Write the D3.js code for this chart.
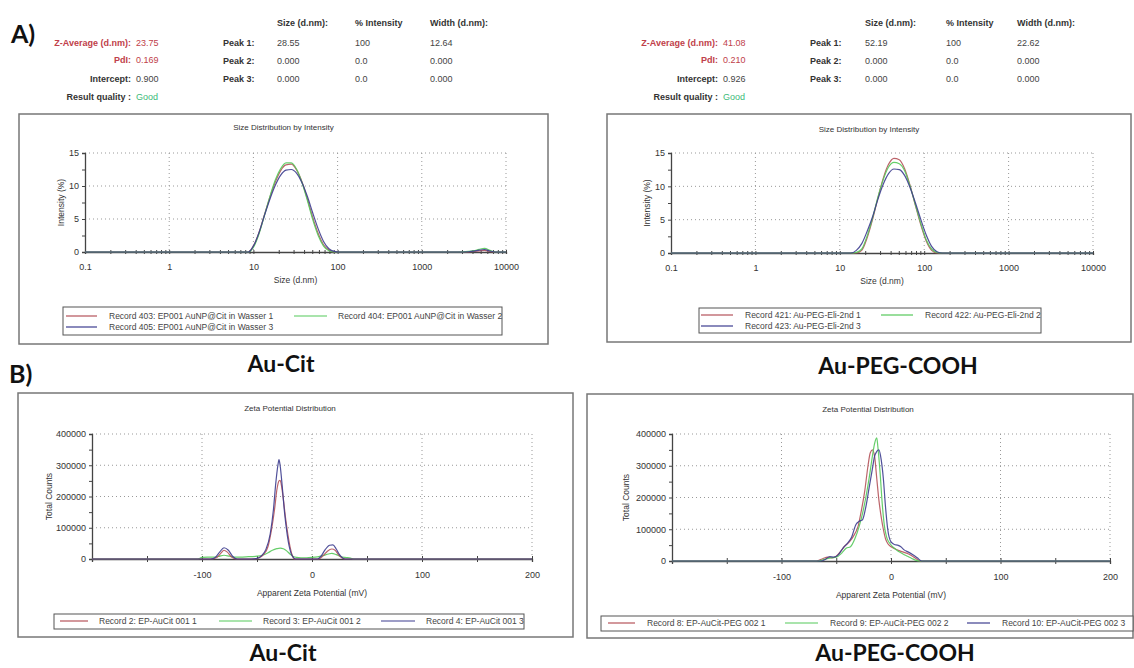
<!DOCTYPE html>
<html><head><meta charset="utf-8">
<script src="https://cdn.jsdelivr.net/npm/d3@7"></script>
<style>
body{margin:0;background:#fff;}
svg{display:block;font-family:"Liberation Sans",Arial,sans-serif;}
</style></head><body>
<svg id="c" width="1134" height="668"></svg>
<script>
// ---------- DATA ----------
// DLS size distribution, Au-Cit
const citSizes = [0.1, 8.7, 10.1, 11.7, 13.5, 15.7, 18.2, 21.0, 24.4, 28.2, 32.7, 37.8, 43.8, 50.7, 58.8, 68.1, 78.8, 91.3, 105.7, 2670, 3580, 4150, 4800, 5560, 6440, 7460, 10000];
const cit403 = [0, 0, 1.0, 3.0, 5.6, 8.3, 10.6, 12.3, 13.2, 13.3, 12.4, 10.6, 8.0, 5.2, 2.8, 1.1, 0.3, 0, 0, 0, 0.02, 0.08, 0.18, 0.25, 0.1, 0, 0];
const cit404 = [0, 0, 0.8, 2.8, 5.5, 8.4, 10.9, 12.6, 13.5, 13.5, 12.5, 10.5, 7.8, 4.9, 2.5, 0.9, 0.2, 0, 0, 0, 0.08, 0.2, 0.4, 0.55, 0.25, 0, 0];
const cit405 = [0, 0, 1.0, 3.0, 5.5, 8.0, 10.1, 11.6, 12.4, 12.5, 11.9, 10.5, 8.4, 5.9, 3.5, 1.6, 0.5, 0.1, 0, 0, 0.04, 0.12, 0.28, 0.38, 0.15, 0, 0];
// DLS size distribution, Au-PEG-COOH
const pegSizes = [0.1, 13.5, 15.7, 18.2, 21.0, 24.4, 28.2, 32.7, 37.8, 43.8, 50.7, 58.8, 68.1, 78.8, 91.3, 105.7, 122.4, 141.8, 164.2, 10000];
const peg421 = [0, 0, 0, 0.4, 2.2, 5.0, 8.2, 11.2, 13.3, 14.2, 14.0, 12.6, 10.1, 7.1, 4.2, 1.8, 0.4, 0, 0, 0];
const peg422 = [0, 0, 0.1, 0.6, 2.5, 5.2, 8.3, 11.0, 12.9, 13.6, 13.4, 12.3, 10.0, 7.2, 4.4, 2.0, 0.6, 0.1, 0, 0];
const peg423 = [0, 0, 0.4, 1.4, 3.2, 5.4, 8.0, 10.3, 11.9, 12.6, 12.5, 11.6, 9.8, 7.5, 5.0, 2.7, 1.0, 0.2, 0, 0];
const sizeTicks = [0.1, 1, 10, 100, 1000, 10000];
const sizeTickLabels = ["0.1", "1", "10", "100", "1000", "10000"];
const intensityTicks = [0, 5, 10, 15];

// Zeta potential, Au-Cit
const zCit2X = [-200, -92, -87, -83, -80, -77, -73, -69, -52, -48, -44, -40, -37, -34, -32, -30, -29, -28, -26, -24, -22, -20, -18, -16, 6, 10, 14, 18, 21, 24, 27, 30, 200];
const zCit2Y = [0, 0, 4000, 18000, 28000, 22000, 6000, 0, 0, 4000, 15000, 40000, 90000, 160000, 220000, 250000, 252000, 240000, 190000, 130000, 80000, 40000, 12000, 0, 0, 10000, 25000, 32000, 28000, 14000, 4000, 0, 0];
const zCit3X = [-200, -104, -100, -95, -90, -85, -80, -75, -70, -60, -50, -45, -40, -36, -32, -29, -26, -23, -20, -17, -14, -10, -5, 0, 5, 10, 15, 18, 22, 26, 30, 35, 38, 200];
const zCit3Y = [0, 0, 5000, 6000, 6000, 8000, 12000, 9000, 6000, 7000, 9000, 12000, 20000, 28000, 33000, 35000, 33000, 26000, 16000, 8000, 5000, 4000, 4000, 5000, 7000, 11000, 16000, 18000, 14000, 8000, 5000, 3000, 0, 0];
const zCit4X = [-200, -92, -88, -84, -80, -76, -72, -68, -55, -50, -46, -42, -38, -35, -33, -31, -30, -29, -27, -25, -23, -21, -19, -17, -15, 5, 8, 12, 16, 19, 22, 25, 28, 30, 200];
const zCit4Y = [0, 0, 5000, 22000, 36000, 28000, 8000, 0, 0, 2000, 10000, 30000, 80000, 160000, 240000, 300000, 318000, 300000, 230000, 150000, 90000, 45000, 18000, 5000, 0, 0, 8000, 30000, 44000, 45000, 32000, 14000, 3000, 0, 0];
// Zeta potential, Au-PEG-COOH
const zPeg8X = [-200, -68, -62, -58, -54, -50, -46, -42, -38, -34, -30, -27, -24, -21, -19, -17, -15, -13, -11, -9, -7, -5, -3, 0, 4, 8, 12, 16, 20, 24, 27, 200];
const zPeg8Y = [0, 0, 8000, 12000, 10000, 15000, 30000, 48000, 60000, 80000, 110000, 160000, 220000, 300000, 340000, 350000, 330000, 260000, 190000, 140000, 100000, 70000, 55000, 45000, 38000, 32000, 27000, 22000, 14000, 5000, 0, 0];
const zPeg9X = [-200, -66, -60, -55, -50, -45, -41, -37, -33, -29, -26, -23, -20, -17, -15, -13, -12, -10, -8, -6, -4, -1, 3, 7, 11, 15, 19, 23, 26, 200];
const zPeg9Y = [0, 0, 6000, 10000, 12000, 25000, 40000, 45000, 70000, 110000, 150000, 200000, 260000, 330000, 370000, 388000, 360000, 280000, 180000, 110000, 75000, 55000, 40000, 30000, 22000, 15000, 8000, 2000, 0, 0];
const zPeg10X = [-200, -64, -60, -56, -52, -48, -44, -40, -36, -32, -29, -26, -23, -20, -17, -15, -13, -11, -9, -7, -5, -3, 0, 3, 6, 9, 12, 16, 20, 24, 28, 200];
const zPeg10Y = [0, 0, 5000, 14000, 12000, 20000, 40000, 55000, 75000, 115000, 125000, 130000, 170000, 230000, 290000, 330000, 345000, 350000, 320000, 260000, 170000, 100000, 60000, 52000, 50000, 45000, 35000, 28000, 20000, 10000, 0, 0];
const zetaTicks = [-100, 0, 100, 200];
const zetaMinorTicks = [-200, -150, -50, 50, 150];
const countTicks = [0, 100000, 200000, 300000, 400000];

const citLegend = ["Record 403: EP001 AuNP@Cit in Wasser 1", "Record 404: EP001 AuNP@Cit in Wasser 2", "Record 405: EP001 AuNP@Cit in Wasser 3"];
const pegLegend = ["Record 421: Au-PEG-Eli-2nd 1", "Record 422: Au-PEG-Eli-2nd 2", "Record 423: Au-PEG-Eli-2nd 3"];
const zCitLegend = ["Record 2: EP-AuCit 001 1", "Record 3: EP-AuCit 001 2", "Record 4: EP-AuCit 001 3"];
const zPegLegend = ["Record 8: EP-AuCit-PEG 002 1", "Record 9: EP-AuCit-PEG 002 2", "Record 10: EP-AuCit-PEG 002 3"];

const tableHeaders = ["Size (d.nm):", "% Intensity", "Width (d.nm):"];
const peakLabels = ["Peak 1:", "Peak 2:", "Peak 3:"];
const citPeaks = [["28.55", "100", "12.64"], ["0.000", "0.0", "0.000"], ["0.000", "0.0", "0.000"]];
const pegPeaks = [["52.19", "100", "22.62"], ["0.000", "0.0", "0.000"], ["0.000", "0.0", "0.000"]];
const citSummary = ["23.75", "0.169", "0.900", "Good"];
const pegSummary = ["41.08", "0.210", "0.926", "Good"];
const summaryLabels = ["Z-Average (d.nm):", "PdI:", "Intercept:", "Result quality :"];

const RED = "#b5535a", GREEN = "#55c95a", BLUE = "#3d3d8f";

// ---------- DRAW ----------
const svg = d3.select("#c");

function table(x, sumVals, colX) {
  const g = svg.append("g").attr("font-size", 9);
  const rowsY = [46, 63, 82, 100];
  const lblColors = ["#c0404a", "#c0404a", "#333", "#333"];
  const valColors = ["#c0404a", "#c0404a", "#444", "#3dbb7a"];
  summaryLabels.forEach((s, i) => {
    g.append("text").attr("x", x).attr("y", rowsY[i]).attr("text-anchor", "end")
      .attr("font-weight", "bold").attr("fill", lblColors[i]).text(s);
    g.append("text").attr("x", x + 5).attr("y", rowsY[i]).attr("fill", valColors[i]).text(sumVals[i]);
  });
  tableHeaders.forEach((h, i) => g.append("text").attr("x", colX[i]).attr("y", 26).attr("font-weight", "bold").attr("fill", "#333").text(h));
  return g;
}
function peaks(g, peakX, colX, vals) {
  const rowsY = [46, 64, 82];
  peakLabels.forEach((p, i) => {
    g.append("text").attr("x", peakX).attr("y", rowsY[i]).attr("font-weight", "bold").attr("fill", "#333").text(p);
    vals[i].forEach((v, j) => g.append("text").attr("x", colX[j]).attr("y", rowsY[i]).attr("fill", "#444").text(v));
  });
}
const gt1 = table(131, citSummary, [277, 355, 430]);
peaks(gt1, 223, [277, 355, 430], citPeaks);
const gt2 = table(718, pegSummary, [865, 946, 1017]);
peaks(gt2, 810, [865, 946, 1017], pegPeaks);

function frame(f) {
  svg.append("rect").attr("x", f[0]).attr("y", f[1]).attr("width", f[2] - f[0]).attr("height", f[3] - f[1])
    .attr("fill", "none").attr("stroke", "#777").attr("stroke-width", 1.5);
}
function legend(box, items, fs) {
  svg.append("rect").attr("x", box[0]).attr("y", box[1]).attr("width", box[2] - box[0]).attr("height", box[3] - box[1])
    .attr("fill", "#fff").attr("stroke", "#555").attr("stroke-width", 1);
  items.forEach(it => {
    svg.append("line").attr("x1", it.x1).attr("x2", it.x2).attr("y1", it.y).attr("y2", it.y).attr("stroke", it.c).attr("stroke-width", 1.2);
    svg.append("text").attr("x", it.tx).attr("y", it.y + 3).attr("font-size", fs).attr("fill", "#444").text(it.t);
  });
}
function grid(x, y, xs, ys, p) {
  const g = svg.append("g").attr("stroke", "#999").attr("stroke-width", 1).attr("stroke-dasharray", "1,3");
  xs.forEach(v => g.append("line").attr("x1", x(v)).attr("x2", x(v)).attr("y1", p.t).attr("y2", p.b));
  ys.forEach(v => g.append("line").attr("x1", p.l).attr("x2", p.r).attr("y1", y(v)).attr("y2", y(v)));
}
function styleAxis(g) {
  g.select(".domain").attr("stroke", "#444").attr("stroke-width", 1.3);
  g.selectAll(".tick line").attr("stroke", "#444");
  g.selectAll(".tick text").attr("fill", "#333").attr("font-size", 9);
}

function dls(cfg) {
  frame(cfg.frame);
  const p = cfg.plot;
  const x = d3.scaleLog().domain([0.1, 10000]).range([p.l, p.r]);
  const y = d3.scaleLinear().domain([0, 15]).range([p.b, p.t]);
  grid(x, y, sizeTicks.slice(1), intensityTicks.slice(1), p);
  const minor = [];
  [0.1, 1, 10, 100, 1000].forEach(d => { for (let k = 1; k < 10; k++) minor.push(d * k); });
  minor.push(10000);
  const gx = svg.append("g").attr("transform", `translate(0,${p.b})`)
    .call(d3.axisBottom(x).tickValues(minor).tickSizeOuter(0).tickSize(2).tickPadding(10)
      .tickFormat(d => { const i = sizeTicks.indexOf(d); return i >= 0 ? sizeTickLabels[i] : ""; }));
  gx.selectAll(".tick line").attr("y1", -2).attr("y2", 2);
  styleAxis(gx);
  const yt = [0, 2.5, 5, 7.5, 10, 12.5, 15];
  const gy = svg.append("g").attr("transform", `translate(${p.l},0)`)
    .call(d3.axisLeft(y).tickValues(yt).tickSizeOuter(0).tickSize(3).tickPadding(3)
      .tickFormat(d => intensityTicks.includes(d) ? d : ""));
  styleAxis(gy);
  const line = d3.line().x((d, i) => x(cfg.sizes[i])).y(d => y(d)).curve(d3.curveMonotoneX);
  cfg.series.forEach(s => svg.append("path").datum(s.v).attr("d", line).attr("fill", "none")
    .attr("stroke", s.c).attr("stroke-width", 1.2).attr("stroke-opacity", 0.9));
  svg.append("text").attr("x", (cfg.frame[0] + cfg.frame[2]) / 2).attr("y", cfg.titleY).attr("text-anchor", "middle")
    .attr("font-size", 8).attr("fill", "#333").text("Size Distribution by Intensity");
  svg.append("text").attr("x", (p.l + p.r) / 2).attr("y", cfg.xlabY).attr("text-anchor", "middle")
    .attr("font-size", 8.5).attr("fill", "#333").text("Size (d.nm)");
  svg.append("text").attr("transform", `translate(${cfg.ylabX},${(p.t + p.b) / 2}) rotate(-90)`).attr("text-anchor", "middle")
    .attr("font-size", 8.5).attr("fill", "#333").text("Intensity (%)");
  legend(cfg.legBox, cfg.legItems, 8.5);
}

function zeta(cfg) {
  frame(cfg.frame);
  const p = cfg.plot;
  const x = d3.scaleLinear().domain([-200, 200]).range([p.l, p.r]);
  const y = d3.scaleLinear().domain([0, 400000]).range([p.b, p.t]);
  grid(x, y, zetaTicks, countTicks.slice(1), p);
  const gx = svg.append("g").attr("transform", `translate(0,${p.b})`)
    .call(d3.axisBottom(x).tickValues(zetaTicks.concat(zetaMinorTicks)).tickSizeOuter(0).tickSize(3).tickPadding(10)
      .tickFormat(d => zetaTicks.includes(d) ? d : ""));
  gx.selectAll(".tick line").attr("y1", -3).attr("y2", 3);
  styleAxis(gx);
  const yt = d3.range(0, 400001, 50000);
  const gy = svg.append("g").attr("transform", `translate(${p.l},0)`)
    .call(d3.axisLeft(y).tickValues(yt).tickSizeOuter(0).tickSize(3).tickPadding(3)
      .tickFormat(d => countTicks.includes(d) ? d : ""));
  styleAxis(gy);
  cfg.series.forEach(s => {
    const line = d3.line().x((d, i) => x(s.x[i])).y(d => y(d)).curve(d3.curveMonotoneX);
    svg.append("path").datum(s.y).attr("d", line).attr("fill", "none")
      .attr("stroke", s.c).attr("stroke-width", 1.2).attr("stroke-opacity", 0.9);
  });
  svg.append("text").attr("x", cfg.titleX).attr("y", cfg.titleY).attr("text-anchor", "middle")
    .attr("font-size", 8).attr("fill", "#333").text("Zeta Potential Distribution");
  svg.append("text").attr("x", x(0)).attr("y", cfg.xlabY).attr("text-anchor", "middle")
    .attr("font-size", 8.5).attr("fill", "#333").text("Apparent Zeta Potential (mV)");
  svg.append("text").attr("transform", `translate(${cfg.ylabX},${(p.t + p.b) / 2}) rotate(-90)`).attr("text-anchor", "middle")
    .attr("font-size", 8.5).attr("fill", "#333").text("Total Counts");
  legend(cfg.legBox, cfg.legItems, 8.5);
}

dls({
  frame: [19, 114, 548, 344], plot: { l: 85, r: 506, t: 153, b: 252 },
  titleY: 130, xlabY: 283, ylabX: 64, sizes: citSizes,
  series: [{ v: cit403, c: RED }, { v: cit404, c: GREEN }, { v: cit405, c: BLUE }],
  legBox: [63, 307, 502, 335],
  legItems: [{ x1: 66, x2: 97, y: 316, tx: 109, t: citLegend[0], c: RED },
             { x1: 294, x2: 327, y: 316, tx: 338, t: citLegend[1], c: GREEN },
             { x1: 66, x2: 97, y: 327, tx: 109, t: citLegend[2], c: BLUE }]
});
dls({
  frame: [607, 114, 1131, 342], plot: { l: 671, r: 1093, t: 153, b: 253 },
  titleY: 132, xlabY: 284, ylabX: 650, sizes: pegSizes,
  series: [{ v: peg421, c: RED }, { v: peg422, c: GREEN }, { v: peg423, c: BLUE }],
  legBox: [699, 308, 1041, 333],
  legItems: [{ x1: 701, x2: 733, y: 315, tx: 745, t: pegLegend[0], c: RED },
             { x1: 881, x2: 913, y: 315, tx: 925, t: pegLegend[1], c: GREEN },
             { x1: 701, x2: 733, y: 326, tx: 745, t: pegLegend[2], c: BLUE }]
});
zeta({
  frame: [18, 393, 573, 637], plot: { l: 92, r: 532, t: 434, b: 559 },
  titleX: 290, titleY: 411, xlabY: 596, ylabX: 52,
  series: [{ x: zCit3X, y: zCit3Y, c: GREEN }, { x: zCit2X, y: zCit2Y, c: RED }, { x: zCit4X, y: zCit4Y, c: BLUE }],
  legBox: [54, 614, 524, 629],
  legItems: [{ x1: 60, x2: 88, y: 621, tx: 99, t: zCitLegend[0], c: RED },
             { x1: 219, x2: 252, y: 621, tx: 263, t: zCitLegend[1], c: GREEN },
             { x1: 381, x2: 415, y: 621, tx: 426, t: zCitLegend[2], c: BLUE }]
});
zeta({
  frame: [587, 394, 1133, 638], plot: { l: 672, r: 1110, t: 434, b: 561 },
  titleX: 868, titleY: 412, xlabY: 598, ylabX: 629,
  series: [{ x: zPeg8X, y: zPeg8Y, c: RED }, { x: zPeg9X, y: zPeg9Y, c: GREEN }, { x: zPeg10X, y: zPeg10Y, c: BLUE }],
  legBox: [601, 616, 1133, 631],
  legItems: [{ x1: 608, x2: 635, y: 623, tx: 647, t: zPegLegend[0], c: RED },
             { x1: 785, x2: 818, y: 623, tx: 830, t: zPegLegend[1], c: GREEN },
             { x1: 967, x2: 990, y: 623, tx: 1002, t: zPegLegend[2], c: BLUE }]
});

// panel labels
const big = svg.append("g").attr("font-family", "Lato, 'Open Sans', sans-serif").attr("font-weight", 700).attr("fill", "#111");
big.append("text").attr("x", 11).attr("y", 43).attr("font-size", 25).text("A)");
big.append("text").attr("x", 9).attr("y", 383).attr("font-size", 25).text("B)");
big.append("text").attr("x", 281).attr("y", 372).attr("font-size", 23).attr("text-anchor", "middle").text("Au-Cit");
big.append("text").attr("x", 898).attr("y", 374).attr("font-size", 23).attr("text-anchor", "middle").text("Au-PEG-COOH");
big.append("text").attr("x", 283).attr("y", 661).attr("font-size", 23).attr("text-anchor", "middle").text("Au-Cit");
big.append("text").attr("x", 895).attr("y", 661).attr("font-size", 23).attr("text-anchor", "middle").text("Au-PEG-COOH");
</script>
</body></html>
